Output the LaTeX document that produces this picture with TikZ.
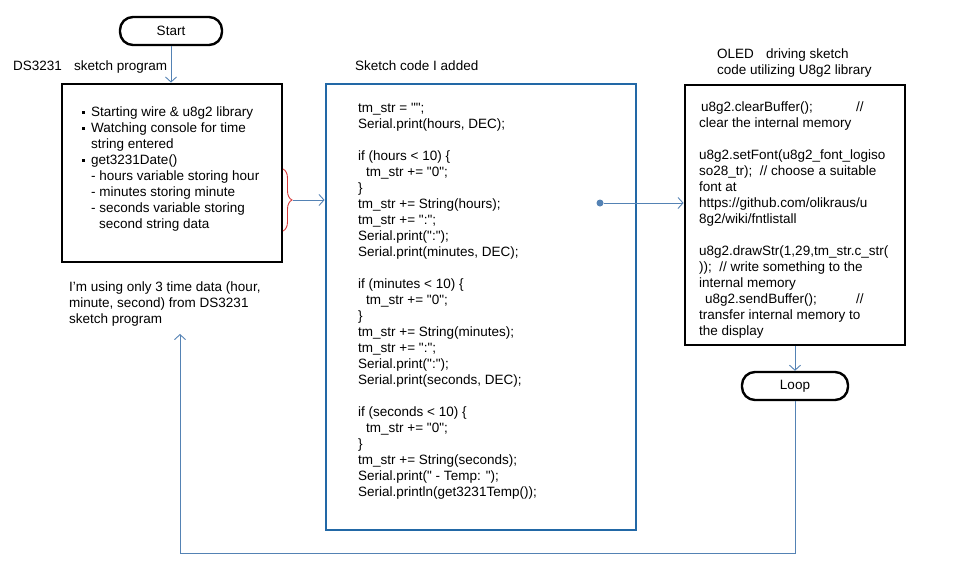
\documentclass[tikz,border=0pt]{standalone}
\usepackage{fontspec}
\setmainfont{Liberation Sans}[Ligatures=TeXOff]
\usetikzlibrary{arrows.meta,positioning,decorations.pathreplacing,calc}
\definecolor{flow}{RGB}{84,130,180}
\definecolor{codeblue}{RGB}{34,104,166}
\definecolor{bracered}{RGB}{214,58,58}
\newcommand{\sqbullet}{\makebox[9pt][l]{\rule[3pt]{2.8pt}{2.8pt}}}

\begin{document}
\begin{tikzpicture}[x=1pt, y=-1pt,
  every node/.style={font=\fontsize{13.5}{16}\selectfont, inner sep=0pt},
  terminal/.style={draw, line width=2.4pt, rounded corners=13pt, minimum height=28pt},
  stepbox/.style={draw, line width=2.8pt},
  codebox/.style={draw=codeblue, line width=2.8pt},
  flowline/.style={draw=flow, line width=0.9pt},
  flowarrow/.style={flowline, -{Straight Barb[length=5pt,width=11pt]}}]
\useasboundingbox (0,0) rectangle (953,581);
% ---- left column: DS3231 sketch
\node[terminal, minimum width=102pt] (start) at (171,31) {Start};
\node[anchor=base west] (dslabel) at (13,70) {DS3231\hspace{0.9em}sketch program};
\node[stepbox, minimum width=220pt, minimum height=178pt] (ds) at (172,173) {};
\node[anchor=north west, align=left] (dstext) at (82,107)
  {\sqbullet Starting wire \& u8g2 library\\
   \sqbullet Watching console for time\\
   \hspace*{9pt}string entered\\
   \sqbullet get3231Date()\\
   \hspace*{9pt}- hours variable storing hour\\
   \hspace*{9pt}- minutes storing minute\\
   \hspace*{9pt}- seconds variable storing\\
   \hspace*{17pt}second string data};
\node[anchor=north west, align=left] (note) at (69,282)
  {I’m using only 3 time data (hour,\\
   minute, second) from DS3231\\
   sketch program};
% ---- middle column: added code
\node[anchor=base west] (codelabel) at (355,70) {Sketch code I added};
\node[codebox, minimum width=310pt, minimum height=446pt] (code) at (481,307) {};
\node[anchor=north west, align=left] (codetext) at (358,103)
  {tm\_str = "";\\
   Serial.print(hours, DEC);\\[16pt]
   if (hours < 10) \{\\
   \hspace*{8pt}tm\_str += "0";\\
   \}\\
   tm\_str += String(hours);\\
   tm\_str += ":";\\
   Serial.print(":");\\
   Serial.print(minutes, DEC);\\[16pt]
   if (minutes < 10) \{\\
   \hspace*{8pt}tm\_str += "0";\\
   \}\\
   tm\_str += String(minutes);\\
   tm\_str += ":";\\
   Serial.print(":");\\
   Serial.print(seconds, DEC);\\[16pt]
   if (seconds < 10) \{\\
   \hspace*{8pt}tm\_str += "0";\\
   \}\\
   tm\_str += String(seconds);\\
   Serial.print(" - Temp: ");\\
   Serial.println(get3231Temp());};
\node[circle, fill=flow, minimum size=7pt] (dot) at (600,203) {};
% ---- right column: OLED sketch
\node[anchor=north west, align=left] (oledlabel) at (717,48.5)
  {OLED\hspace{0.9em}driving sketch\\
   code utilizing U8g2 library};
\node[stepbox, minimum width=220pt, minimum height=260pt] (oled) at (795,215) {};
\node[anchor=north west, align=left] (oledtext) at (699,101.5)
  {\makebox[157pt][l]{\hspace*{2pt}u8g2.clearBuffer();}//\\
   clear the internal memory\\[16pt]
   u8g2.setFont(u8g2\_font\_logiso\\
   so28\_tr);\ \ // choose a suitable\\
   font at\\
   https://github.com/olikraus/u\\
   8g2/wiki/fntlistall\\[16pt]
   u8g2.drawStr(1,29,tm\_str.c\_str(\\
   ));\ \ // write something to the\\
   internal memory\\
   \hspace*{6pt}\makebox[151pt][l]{u8g2.sendBuffer();}//\\
   transfer internal memory to\\
   the display};
\node[terminal, minimum width=106pt] (loop) at (795,386) {Loop};
% ---- connectors
\draw[flowarrow] (start.south) -- (start.south |- ds.north);
\draw[bracered, line width=0.9pt, decorate, decoration={brace, amplitude=9pt}]
  (283,169) -- (283,231);
\coordinate (bracetip) at (293,200);
\draw[flowarrow] (bracetip) -- (bracetip -| code.west);
\draw[flowarrow] (dot) -- (dot -| oled.west);
\draw[flowarrow] (oled.south) -- (loop.north);
\coordinate (turn) at (180,553);
\draw[flowarrow] (loop.south) |- (turn) -- ($(turn |- note.south)+(0,7)$);
\end{tikzpicture}
\end{document}
